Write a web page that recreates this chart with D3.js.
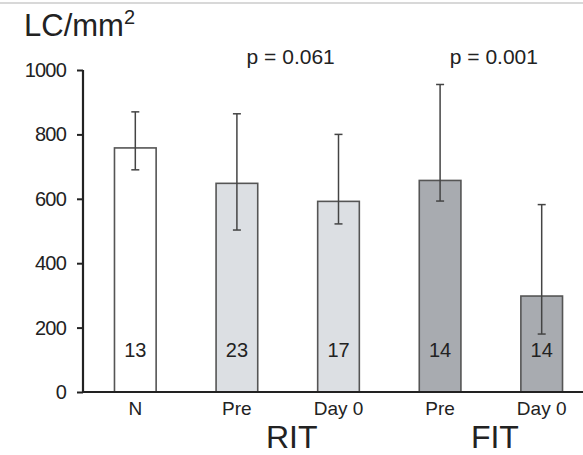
<!DOCTYPE html>
<html><head><meta charset="utf-8">
<script src="https://cdn.jsdelivr.net/npm/d3@7"></script>
<style>html,body{margin:0;padding:0;background:#fff;}svg{display:block;font-family:"Liberation Sans",Arial,sans-serif;}</style>
</head><body>
<svg id="c" width="583" height="455"></svg>
<script>
const categories = ["N","Pre","Day 0","Pre","Day 0"];
const groups = ["N","RIT","RIT","FIT","FIT"];
const means = [758, 648, 592, 657, 298];
const errLow = [690, 503, 522, 593, 180];
const errHigh = [870, 864, 800, 955, 582];
const counts = ["13","23","17","14","14"];
const yTicks = [0,200,400,600,800,1000];
const groupLabels = ["RIT","FIT"];
const pValues = ["p = 0.061","p = 0.001"];
const fills = {N:"#ffffff", RIT:"#dcdfe3", FIT:"#a8abb0"};

const svg = d3.select("#c");
svg.append("line").attr("x1",0).attr("x2",583).attr("y1",3).attr("y2",3).attr("stroke","#d8d8d8").attr("stroke-width",2);

const y = d3.scaleLinear().domain([0,1000]).range([392,70]);
const x = d3.scaleBand().domain(d3.range(categories.length)).range([84,593]).paddingInner(0.59).paddingOuter(0.3);

const g = svg.append("g");
g.selectAll("rect").data(means).join("rect")
  .attr("x",(d,i)=>x(i)).attr("width",x.bandwidth())
  .attr("y",d=>y(d)).attr("height",d=>y(0)-y(d))
  .attr("fill",(d,i)=>fills[groups[i]]).attr("stroke","#555").attr("stroke-width",1.6);

const eb = svg.append("g").attr("stroke","#444").attr("stroke-width",1.5);
means.forEach((m,i)=>{
  const cx = x(i)+x.bandwidth()/2;
  eb.append("line").attr("x1",cx).attr("x2",cx).attr("y1",y(errLow[i])).attr("y2",y(errHigh[i]));
  eb.append("line").attr("x1",cx-4).attr("x2",cx+4).attr("y1",y(errLow[i])).attr("y2",y(errLow[i]));
  eb.append("line").attr("x1",cx-4).attr("x2",cx+4).attr("y1",y(errHigh[i])).attr("y2",y(errHigh[i]));
});

svg.append("g").selectAll("text").data(counts).join("text")
  .attr("x",(d,i)=>x(i)+x.bandwidth()/2).attr("y",357)
  .attr("text-anchor","middle").attr("font-size",20).attr("fill","#222").text(d=>d);

const ya = svg.append("g").attr("transform","translate(83,0)")
  .call(d3.axisLeft(y).tickValues(yTicks).tickFormat(d3.format("d")).tickSize(6).tickPadding(11));
ya.select(".domain").attr("stroke","#222").attr("stroke-width",2.2).attr("d","M0,392V70");
ya.selectAll(".tick line").attr("stroke","#222").attr("stroke-width",2);
ya.selectAll(".tick text").attr("font-size",20).attr("fill","#222").attr("font-family","Liberation Sans, Arial, sans-serif").attr("letter-spacing","-0.8");

svg.append("line").attr("x1",82).attr("x2",583).attr("y1",y(0)).attr("y2",y(0)).attr("stroke","#222").attr("stroke-width",2.2);

svg.append("g").selectAll("text").data(categories).join("text")
  .attr("x",(d,i)=>x(i)+x.bandwidth()/2).attr("y",415)
  .attr("text-anchor","middle").attr("font-size",19).attr("fill","#222").text(d=>d);

const gIdx = groupLabels.map(gl=>groups.map((g,i)=>g===gl?i:-1).filter(i=>i>=0));
svg.append("g").selectAll("text").data(groupLabels).join("text")
  .attr("x",(d,k)=>{const ii=gIdx[k];return (x(ii[0])+x(ii[ii.length-1])+x.bandwidth())/2+4;})
  .attr("y",448).attr("text-anchor","middle").attr("font-size",32).attr("fill","#222").text(d=>d);

svg.append("g").selectAll("text").data(pValues).join("text")
  .attr("x",(d,k)=>{const ii=gIdx[k];return (x(ii[0])+x(ii[ii.length-1])+x.bandwidth())/2+3;})
  .attr("y",64).attr("text-anchor","middle").attr("font-size",21).attr("fill","#222").text(d=>d);

const t = svg.append("text").attr("x",24).attr("y",36).attr("font-size",31).attr("fill","#222");
t.append("tspan").text("LC/mm");
t.append("tspan").attr("font-size",20).attr("dy",-12).text("2");
</script>
</body></html>
